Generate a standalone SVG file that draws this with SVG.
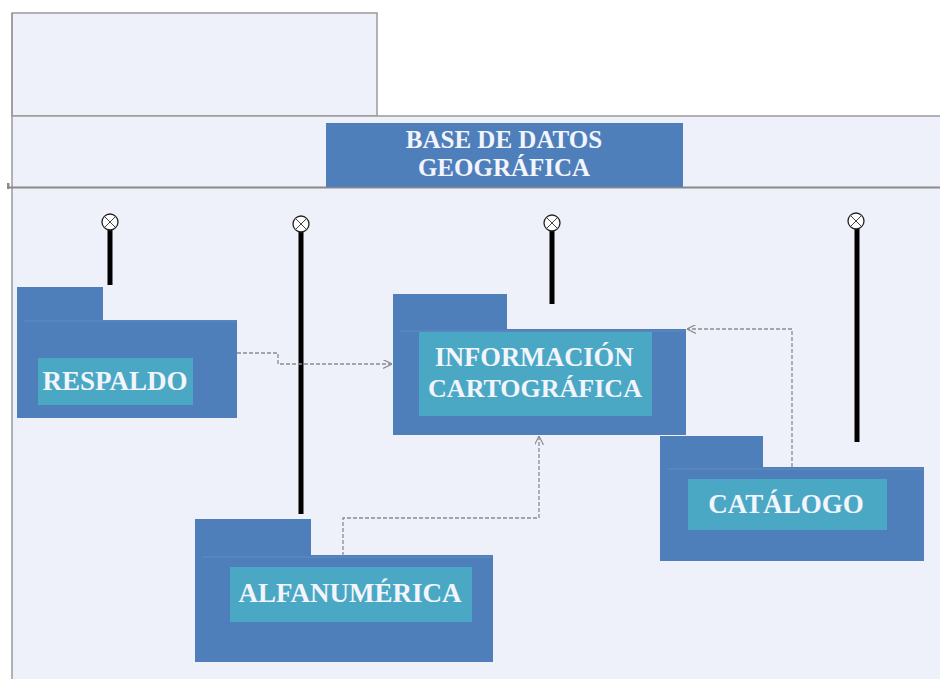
<svg xmlns="http://www.w3.org/2000/svg" width="940" height="679" viewBox="0 0 940 679">
  <defs>
    <style>
      .frame { fill: #eef1f9; stroke: #9a9a9a; stroke-width: 1.5; }
      .pkg { fill: #4f7fbb; }
      .seam { stroke: #5a88c1; stroke-width: 1.5; }
      .lbl { fill: #4aa8c5; }
      .txt { font-family: "Liberation Serif", "Times New Roman", serif; font-weight: bold; fill: #f2f5fb; text-anchor: middle; }
      .iface { stroke: #000; stroke-width: 5; }
      .ball { fill: #fff; stroke: #222; stroke-width: 1.3; }
      .cross { stroke: #444; stroke-width: 1; }
      .dep { fill: none; stroke: #8c8c8c; stroke-width: 1.3; stroke-dasharray: 4 2; marker-end: url(#open); }
    </style>
    <marker id="open" viewBox="0 0 10 10" refX="10" refY="5" markerWidth="9" markerHeight="9" markerUnits="userSpaceOnUse" orient="auto">
      <path d="M0,0 L10,5 L0,10" fill="none" stroke="#8c8c8c" stroke-width="1.3"/>
    </marker>
  </defs>

  <rect width="940" height="679" fill="#ffffff"/>

  <!-- enclosing package frame -->
  <g id="frame">
    <rect class="frame" x="12" y="13" width="365" height="103"/>
    <path d="M12,116 H940 V679 H12 Z" fill="#eef1f9"/>
    <path d="M12,116 H940" stroke="#9a9a9a" stroke-width="1.5"/>
    <path d="M12,13 V679" stroke="#9a9a9a" stroke-width="1.5"/>
    <path d="M8,187.5 H940" stroke="#8a8a8a" stroke-width="2"/>
    <rect x="7" y="183" width="2.5" height="6" fill="#8a8a8a"/>
  </g>

  <!-- title -->
  <g id="title">
    <rect class="pkg" x="326" y="123" width="357" height="64"/>
    <text class="txt" x="504" y="148" font-size="25">BASE DE DATOS</text>
    <text class="txt" x="504" y="176" font-size="25">GEOGRÁFICA</text>
  </g>

  <!-- RESPALDO -->
  <g id="respaldo">
    <rect class="pkg" x="17" y="287" width="86" height="34"/>
    <rect class="pkg" x="17" y="320" width="220" height="98"/>
    <line class="seam" x1="24" y1="321" x2="236" y2="321"/>
    <rect class="lbl" x="38" y="358" width="155" height="47"/>
    <text class="txt" x="115" y="390" font-size="27">RESPALDO</text>
    <line class="iface" x1="110" y1="229" x2="110" y2="285"/>
    <circle class="ball" cx="110" cy="222" r="8"/>
    <path class="cross" d="M104.5,216.5 L115.5,227.5 M115.5,216.5 L104.5,227.5"/>
  </g>

  <!-- INFORMACIÓN CARTOGRÁFICA -->
  <g id="informacion">
    <rect class="pkg" x="393" y="294" width="114" height="36"/>
    <rect class="pkg" x="393" y="329" width="293" height="106"/>
    <line class="seam" x1="400" y1="331" x2="685" y2="331"/>
    <rect class="lbl" x="419" y="332" width="233" height="84"/>
    <text class="txt" x="534" y="366" font-size="26.5">INFORMACIÓN</text>
    <text class="txt" x="535" y="397" font-size="26">CARTOGRÁFICA</text>
    <line class="iface" x1="552" y1="230" x2="552" y2="304"/>
    <circle class="ball" cx="552" cy="223" r="8"/>
    <path class="cross" d="M546.5,217.5 L557.5,228.5 M557.5,217.5 L546.5,228.5"/>
  </g>

  <!-- CATÁLOGO -->
  <g id="catalogo">
    <rect class="pkg" x="660" y="436" width="103" height="32"/>
    <rect class="pkg" x="660" y="467" width="264" height="94"/>
    <line class="seam" x1="667" y1="469" x2="923" y2="469"/>
    <rect class="lbl" x="688" y="479" width="199" height="51"/>
    <text class="txt" x="786" y="513" font-size="27">CATÁLOGO</text>
    <line class="iface" x1="857" y1="228" x2="857" y2="442"/>
    <circle class="ball" cx="856" cy="221" r="8"/>
    <path class="cross" d="M850.5,215.5 L861.5,226.5 M861.5,215.5 L850.5,226.5"/>
  </g>

  <!-- ALFANUMÉRICA -->
  <g id="alfanumerica">
    <rect class="pkg" x="195" y="519" width="116" height="37"/>
    <rect class="pkg" x="195" y="555" width="298" height="107"/>
    <line class="seam" x1="202" y1="557" x2="492" y2="557"/>
    <rect class="lbl" x="230" y="567" width="242" height="55"/>
    <text class="txt" x="350" y="602" font-size="27">ALFANUMÉRICA</text>
    <line class="iface" x1="301" y1="231" x2="301" y2="514"/>
    <circle class="ball" cx="301" cy="224" r="8"/>
    <path class="cross" d="M295.5,218.5 L306.5,229.5 M306.5,218.5 L295.5,229.5"/>
  </g>

  <!-- dependencies -->
  <g id="connectors">
    <path class="dep" d="M237,353 H278 V364 H392"/>
    <path class="dep" d="M343,556 V518 H539 V436"/>
    <path class="dep" d="M792,467 V329 H687"/>
  </g>
</svg>
